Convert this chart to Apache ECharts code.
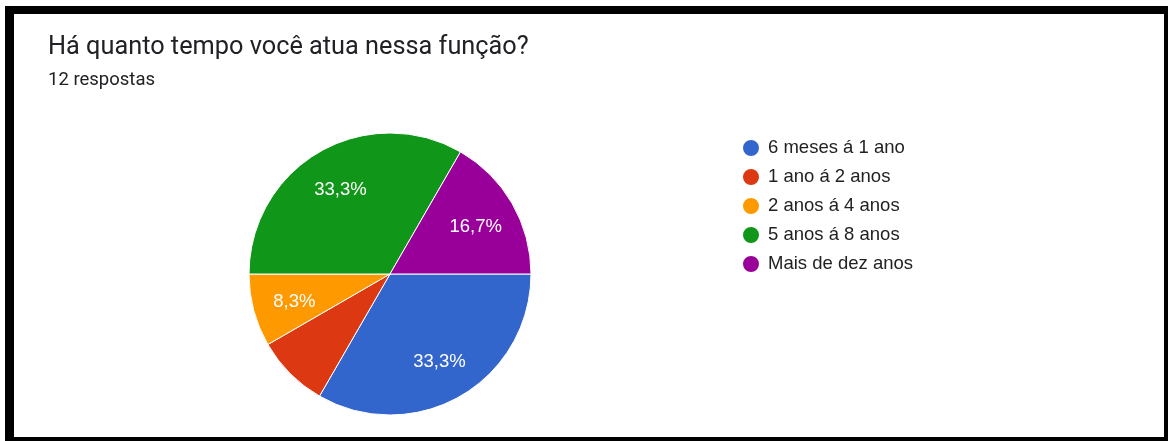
<!DOCTYPE html>
<html>
<head>
<meta charset="utf-8">
<script src="https://cdn.jsdelivr.net/npm/echarts@6/dist/echarts.min.js"></script>
<style>
html,body{margin:0;padding:0;background:#fff;}
#wrap{position:relative;width:1168px;height:441px;overflow:hidden;background:#fff;}
#chart{position:absolute;left:0;top:0;width:1168px;height:441px;}
#frame{position:absolute;left:5px;top:6px;width:1150px;height:423px;border-left:9px solid #000;border-top:8px solid #000;border-right:4px solid #000;border-bottom:4px solid #000;pointer-events:none;}
</style>
</head>
<body>
<div id="wrap"><div id="chart"></div><div id="frame"></div></div>
<script>
const titleText = 'Há quanto tempo você atua nessa função?';
const subtitleText = '12 respostas';
const categories = ['6 meses á 1 ano', '1 ano á 2 anos', '2 anos á 4 anos', '5 anos á 8 anos', 'Mais de dez anos'];
const counts = [4, 1, 1, 4, 2];
const colors = ['#3366cc', '#dc3912', '#ff9900', '#109618', '#990099'];
const hiddenLabels = ['1 ano á 2 anos'];

const total = counts.reduce((a, b) => a + b, 0);
const pieData = categories.map((name, i) => ({
  name: name,
  value: counts[i],
  itemStyle: { color: colors[i] }
}));
const labelData = categories.map((name, i) => ({
  name: name,
  value: counts[i],
  label: { show: hiddenLabels.indexOf(name) < 0 }
}));

const chart = echarts.init(document.getElementById('chart'), null, { renderer: 'canvas' });
chart.setOption({
  animation: false,
  backgroundColor: '#fff',
  title: {
    text: titleText,
    subtext: subtitleText,
    left: 48,
    top: 35,
    padding: 0,
    itemGap: 11,
    textStyle: { fontFamily: 'Roboto', fontSize: 25.3, fontWeight: 'normal', color: '#202124' },
    subtextStyle: { fontFamily: 'Roboto', fontSize: 18.5, color: '#202124' }
  },
  legend: {
    orient: 'vertical',
    left: 741,
    top: 138,
    padding: 0,
    icon: 'circle',
    itemWidth: 18,
    itemHeight: 18,
    itemGap: 9,
    textStyle: { fontFamily: 'Liberation Sans, Arial', fontSize: 18.5, lineHeight: 18, color: '#222', padding: [0, 0, 0, 3] },
    data: categories
  },
  series: [
    {
      type: 'pie',
      center: [390, 274],
      radius: [0, 141],
      startAngle: 0,
      clockwise: true,
      label: { show: false },
      labelLine: { show: false },
      itemStyle: { borderColor: '#fff', borderWidth: 1 },
      emphasis: { disabled: true },
      data: pieData
    },
    {
      type: 'pie',
      center: [390, 274],
      radius: [0, 192],
      startAngle: 0,
      clockwise: true,
      silent: true,
      legendHoverLink: false,
      itemStyle: { color: 'rgba(0,0,0,0)' },
      label: {
        show: true,
        position: 'inside',
        offset: [0, 2],
        formatter: p => (p.value / total * 100).toFixed(1).replace('.', ',') + '%',
        fontFamily: 'Liberation Sans, Arial',
        fontSize: 18.5,
        color: '#fff'
      },
      labelLine: { show: false },
      emphasis: { disabled: true },
      data: labelData
    }
  ]
});
</script>
</body>
</html>
